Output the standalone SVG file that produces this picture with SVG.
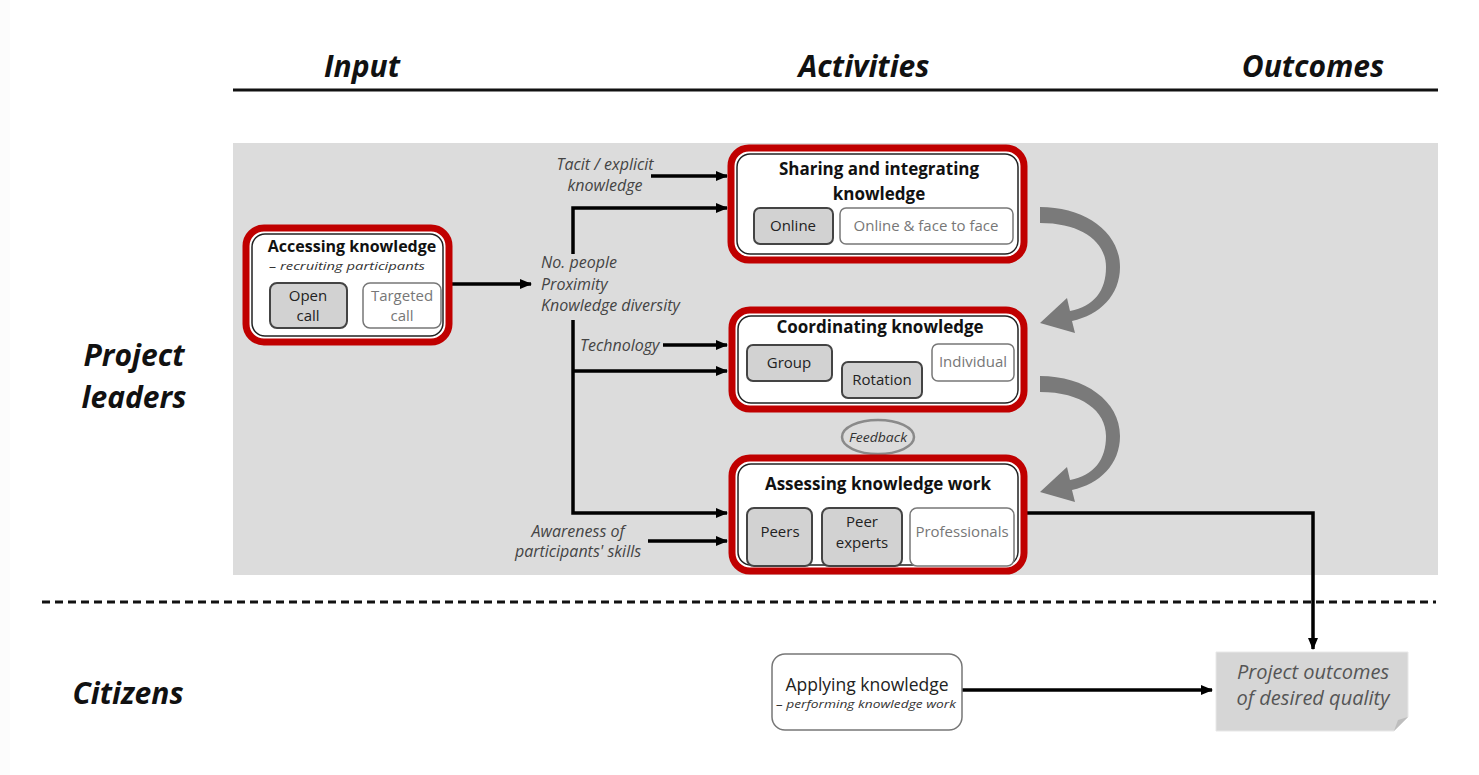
<svg xmlns="http://www.w3.org/2000/svg" width="1479" height="775" viewBox="0 0 1479 775">
<defs>
<marker id="ah" viewBox="0 0 12 10" refX="11" refY="5" markerWidth="12" markerHeight="10" markerUnits="userSpaceOnUse" orient="auto">
<path d="M0,0 L12,5 L0,10 Z" fill="#000"/>
</marker>
<style>
text{font-family:"Open Sans","Liberation Sans",sans-serif}
.hdr{font-weight:bold;font-style:italic;font-size:30px;fill:#111;text-anchor:middle}
.role{font-weight:bold;font-style:italic;font-size:30px;fill:#111;text-anchor:middle}
.red{fill:#fff;stroke:#c00000;stroke-width:7}
.inner{fill:#fff;stroke:#222;stroke-width:1.5}
.title{font-weight:bold;font-size:17px;fill:#111;text-anchor:middle}
.sub{font-style:italic;font-size:11px;fill:#333;text-anchor:middle}
.gbox{fill:#d2d2d2;stroke:#444;stroke-width:2}
.wbox{fill:#fff;stroke:#777;stroke-width:1.5}
.gt{font-size:15px;fill:#222;text-anchor:middle}
.wt{font-size:15px;fill:#777;text-anchor:middle}
.lbl{font-style:italic;font-size:16px;fill:#444}
.conn{fill:none;stroke:#000;stroke-width:3.5}
.curve{fill:#7a7a7a}
</style>
</defs>
<rect x="0" y="0" width="1479" height="775" fill="#fcfcfc"/>
<rect x="10" y="0" width="1469" height="775" fill="#ffffff"/>

<g id="header">
<text class="hdr" x="362" y="77">Input</text>
<text class="hdr" x="864" y="77">Activities</text>
<text class="hdr" x="1313" y="77">Outcomes</text>
<line x1="233" y1="90" x2="1438" y2="90" stroke="#111" stroke-width="3"/>
</g>

<rect id="panel" x="233" y="143" width="1205" height="432" fill="#dcdcdc"/>

<g id="roles">
<text class="role" x="134" y="366">Project</text>
<text class="role" x="134" y="408">leaders</text>
<text class="role" x="128" y="704">Citizens</text>
<line x1="42" y1="602" x2="1436" y2="602" stroke="#111" stroke-width="3" stroke-dasharray="8,5"/>
</g>

<g id="connectors">
<path class="conn" d="M451,284 H531" marker-end="url(#ah)"/>
<path class="conn" d="M651,176 H727" marker-end="url(#ah)"/>
<path class="conn" d="M573,254 V208 H727" marker-end="url(#ah)"/>
<path class="conn" d="M573,320 V513 H727" marker-end="url(#ah)"/>
<path class="conn" d="M573,371 H727" marker-end="url(#ah)"/>
<path class="conn" d="M663,345 H727" marker-end="url(#ah)"/>
<path class="conn" d="M648,541 H727" marker-end="url(#ah)"/>
<path class="conn" d="M1027,513 H1313 V649" marker-end="url(#ah)"/>
<path class="conn" d="M962,690 H1212" marker-end="url(#ah)"/>
</g>

<g id="labels">
<text class="lbl" x="605" y="170" text-anchor="middle">Tacit / explicit</text>
<text class="lbl" x="605" y="191" text-anchor="middle">knowledge</text>
<text class="lbl" x="541" y="268">No. people</text>
<text class="lbl" x="541" y="290">Proximity</text>
<text class="lbl" x="541" y="311">Knowledge diversity</text>
<text class="lbl" x="580" y="351">Technology</text>
<text class="lbl" x="578" y="537" text-anchor="middle">Awareness of</text>
<text class="lbl" x="578" y="557" text-anchor="middle">participants' skills</text>
</g>

<g id="accessing">
<rect class="red" x="246" y="228" width="203" height="114" rx="18"/>
<rect class="inner" x="252" y="234" width="191" height="102" rx="13"/>
<text class="title" x="352" y="252" style="font-size:16px">Accessing knowledge</text>
<text class="sub" x="347" y="270" textLength="156" lengthAdjust="spacingAndGlyphs">– recruiting participants</text>
<rect class="gbox" x="270" y="283" width="77" height="45" rx="7"/>
<text class="gt" x="308" y="301">Open</text>
<text class="gt" x="308" y="321">call</text>
<rect class="wbox" x="363" y="283" width="78" height="45" rx="7"/>
<text class="wt" x="402" y="301">Targeted</text>
<text class="wt" x="402" y="321">call</text>
</g>

<g id="sharing">
<rect class="red" x="731" y="148" width="293" height="112" rx="18"/>
<rect class="inner" x="737" y="154" width="281" height="100" rx="13"/>
<text class="title" x="879" y="175">Sharing and integrating</text>
<text class="title" x="879" y="200">knowledge</text>
<rect class="gbox" x="754" y="208" width="79" height="36" rx="6"/>
<text class="gt" x="793" y="231">Online</text>
<rect class="wbox" x="840" y="208" width="173" height="36" rx="6"/>
<text class="wt" x="926" y="231">Online &amp; face to face</text>
</g>

<g id="coordinating">
<rect class="red" x="732" y="310" width="292" height="99" rx="18"/>
<rect class="inner" x="738" y="316" width="280" height="87" rx="13"/>
<text class="title" x="880" y="333">Coordinating knowledge</text>
<rect class="gbox" x="747" y="345" width="85" height="36" rx="6"/>
<text class="gt" x="789" y="368">Group</text>
<rect class="gbox" x="842" y="362" width="80" height="36" rx="6"/>
<text class="gt" x="882" y="385">Rotation</text>
<rect class="wbox" x="932" y="344" width="82" height="37" rx="6"/>
<text class="wt" x="973" y="367">Individual</text>
</g>

<g id="feedback">
<ellipse cx="878" cy="437" rx="36" ry="17" fill="#dcdcdc" stroke="#8a8a8a" stroke-width="2.5"/>
<text x="878" y="442" font-size="13" fill="#333" text-anchor="middle" font-style="italic" textLength="58" lengthAdjust="spacingAndGlyphs">Feedback</text>
</g>

<g id="assessing">
<rect class="red" x="732" y="458" width="292" height="113" rx="18"/>
<rect class="inner" x="738" y="464" width="280" height="101" rx="13"/>
<text class="title" x="878" y="490">Assessing knowledge work</text>
<rect class="gbox" x="747" y="508" width="65" height="58" rx="7"/>
<text class="gt" x="780" y="537">Peers</text>
<rect class="gbox" x="822" y="508" width="80" height="58" rx="7"/>
<text class="gt" x="862" y="527">Peer</text>
<text class="gt" x="862" y="548">experts</text>
<rect class="wbox" x="910" y="508" width="104" height="58" rx="7"/>
<text class="wt" x="962" y="537">Professionals</text>
</g>

<g id="cycle-arrows">
<path class="curve" transform="translate(1040,207)" d="M0,0 C45,0 80,25 80,60 C80,88 60,108 32,114 L35,126 L0,116 L27,91 L30,104 C54,99 66,84 66,60 C66,35 42,16 0,16 Z"/>
<path class="curve" transform="translate(1040,376)" d="M0,0 C45,0 80,25 80,60 C80,88 60,108 32,114 L35,126 L0,116 L27,91 L30,104 C54,99 66,84 66,60 C66,35 42,16 0,16 Z"/>
</g>

<g id="applying">
<rect x="772" y="654" width="190" height="76" rx="13" fill="#fff" stroke="#777" stroke-width="1.5"/>
<text x="867" y="691" font-size="17.5" fill="#222" text-anchor="middle">Applying knowledge</text>
<text x="866" y="708" font-size="11" font-style="italic" fill="#333" text-anchor="middle" textLength="180" lengthAdjust="spacingAndGlyphs">– performing knowledge work</text>
</g>

<g id="outcomes">
<path d="M1216,652 H1408 V717 L1394,731 H1216 Z" fill="#d6d6d6" stroke="#e8e8e8" stroke-width="1"/>
<path d="M1394,731 L1398,720 L1408,717 Z" fill="#bdbdbd"/>
<text x="1313" y="679" font-size="20" font-style="italic" fill="#555" text-anchor="middle">Project outcomes</text>
<text x="1313" y="705" font-size="20" font-style="italic" fill="#555" text-anchor="middle">of desired quality</text>
</g>
</svg>
